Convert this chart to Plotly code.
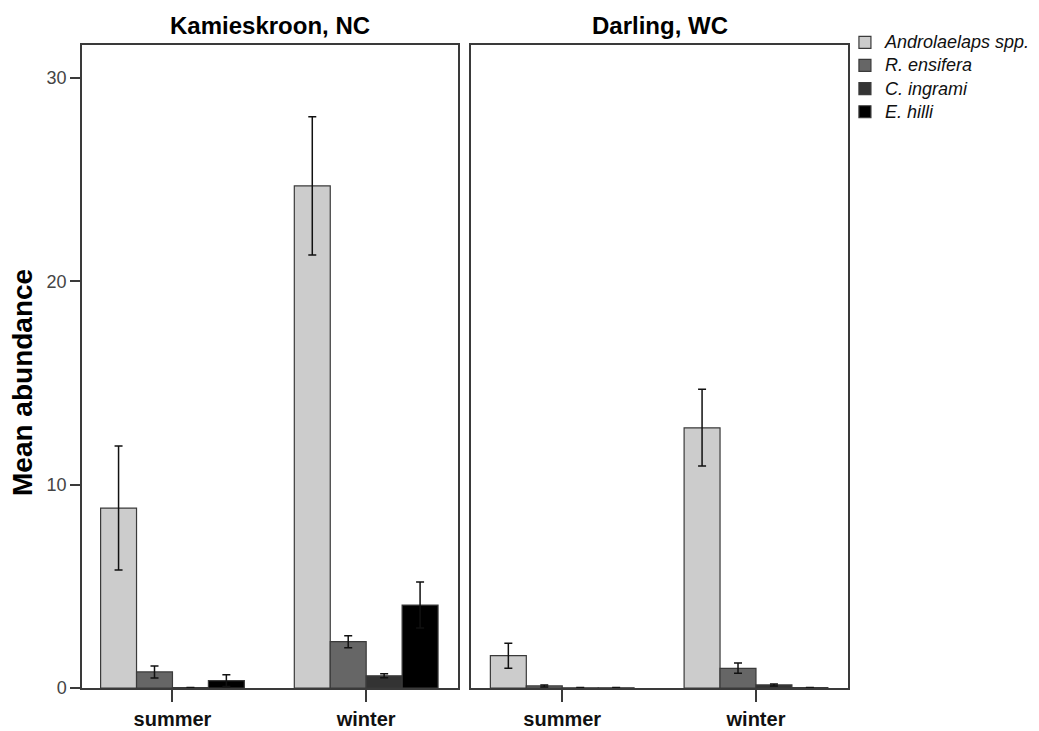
import plotly.graph_objects as go

seasons = ["summer", "winter"]
species = ["Androlaelaps spp.", "R. ensifera", "C. ingrami", "E. hilli"]
colors = ["#cccccc", "#666666", "#333333", "#000000"]

# Kamieskroon, NC: mean, upper error bound, lower error bound
kam_mean = {
    "Androlaelaps spp.": [8.85, 24.7],
    "R. ensifera": [0.79, 2.28],
    "C. ingrami": [0.02, 0.60],
    "E. hilli": [0.36, 4.08],
}
kam_hi = {
    "Androlaelaps spp.": [11.9, 28.1],
    "R. ensifera": [1.08, 2.57],
    "C. ingrami": [0.03, 0.70],
    "E. hilli": [0.65, 5.21],
}
kam_lo = {
    "Androlaelaps spp.": [5.8, 21.3],
    "R. ensifera": [0.49, 1.98],
    "C. ingrami": [0.01, 0.50],
    "E. hilli": [0.07, 2.95],
}
# Darling, WC
dar_mean = {
    "Androlaelaps spp.": [1.59, 12.8],
    "R. ensifera": [0.10, 0.97],
    "C. ingrami": [0.01, 0.15],
    "E. hilli": [0.01, 0.02],
}
dar_hi = {
    "Androlaelaps spp.": [2.2, 14.7],
    "R. ensifera": [0.15, 1.23],
    "C. ingrami": [0.02, 0.20],
    "E. hilli": [0.02, 0.03],
}
dar_lo = {
    "Androlaelaps spp.": [0.97, 10.92],
    "R. ensifera": [0.05, 0.72],
    "C. ingrami": [0.0, 0.10],
    "E. hilli": [0.0, 0.01],
}

fig = go.Figure()
frame = "#3a3a3a"

for panel, (means, his, los) in enumerate([(kam_mean, kam_hi, kam_lo), (dar_mean, dar_hi, dar_lo)]):
    xa = "x" if panel == 0 else "x2"
    ya = "y" if panel == 0 else "y2"
    for sp, col in zip(species, colors):
        m = means[sp]
        up = [h - v for h, v in zip(his[sp], m)]
        dn = [v - l for v, l in zip(m, los[sp])]
        fig.add_trace(go.Bar(
            x=seasons, y=m,
            name='<span style="font-size:18px"><i>' + sp + '</i></span>',
            marker=dict(color=col, line=dict(color=frame, width=1.2)),
            error_y=dict(type="data", symmetric=False, array=up, arrayminus=dn,
                         color="#111111", thickness=1.5, width=4),
            xaxis=xa, yaxis=ya, showlegend=(panel == 0),
            legendgroup=sp,
        ))

L, R, T, B = 82, 191, 45, 43
W, H = 1039, 731
pw = W - L - R
ph = H - T - B
d1 = (458 - L) / pw
d2 = (471 - L) / pw

axis_common = dict(showline=True, linecolor=frame, linewidth=1.5, mirror=True,
                   showgrid=False, zeroline=False, automargin=False)
xtickfont = dict(size=20, family="Liberation Sans, Arial", weight="bold", color="#111")
fig.update_layout(
    width=W, height=H,
    margin=dict(l=L, r=R, t=T, b=B, autoexpand=False),
    paper_bgcolor="white", plot_bgcolor="white",
    barmode="group", bargap=0.258, bargroupgap=0,
    font=dict(family="Liberation Sans, Arial", color="#000000"),
    xaxis=dict(domain=[0, d1], range=[-0.467, 1.474], ticks="outside", ticklen=12,
               tickwidth=1.5, tickcolor=frame, tickfont=xtickfont, **axis_common),
    xaxis2=dict(domain=[d2, 1], range=[-0.471, 1.475], ticks="outside", ticklen=12,
                tickwidth=1.5, tickcolor=frame, anchor="y2", tickfont=xtickfont,
                **axis_common),
    yaxis=dict(range=[0, 31.63], tickvals=[0, 10, 20, 30], ticks="outside", ticklen=10,
               tickwidth=1.5, tickcolor=frame,
               tickfont=dict(size=18, color="#444444"), **axis_common),
    yaxis2=dict(range=[0, 31.63], anchor="x2", showticklabels=False, ticks="",
                matches="y", **axis_common),
    legend=dict(x=0.996, y=1.03, xanchor="left", yanchor="top",
                font=dict(size=15.5, color="#111"), bgcolor="rgba(0,0,0,0)",
                itemwidth=30, tracegroupgap=0, traceorder="normal"),
    annotations=[
        dict(text="<b>Kamieskroon, NC</b>", x=d1 / 2, y=1, xref="paper", yref="paper",
             xanchor="center", yanchor="bottom", yshift=4, showarrow=False,
             font=dict(size=24)),
        dict(text="<b>Darling, WC</b>", x=(d2 + 1) / 2, y=1, xref="paper", yref="paper",
             xanchor="center", yanchor="bottom", yshift=4, showarrow=False,
             font=dict(size=24)),
        dict(text="<b>Mean abundance</b>", x=-60 / pw, xref="paper",
             y=(688 - 383) / ph, yref="paper", textangle=-90,
             showarrow=False, font=dict(size=28), xanchor="center", yanchor="middle"),
    ],
)

fig.write_html("out.html")
